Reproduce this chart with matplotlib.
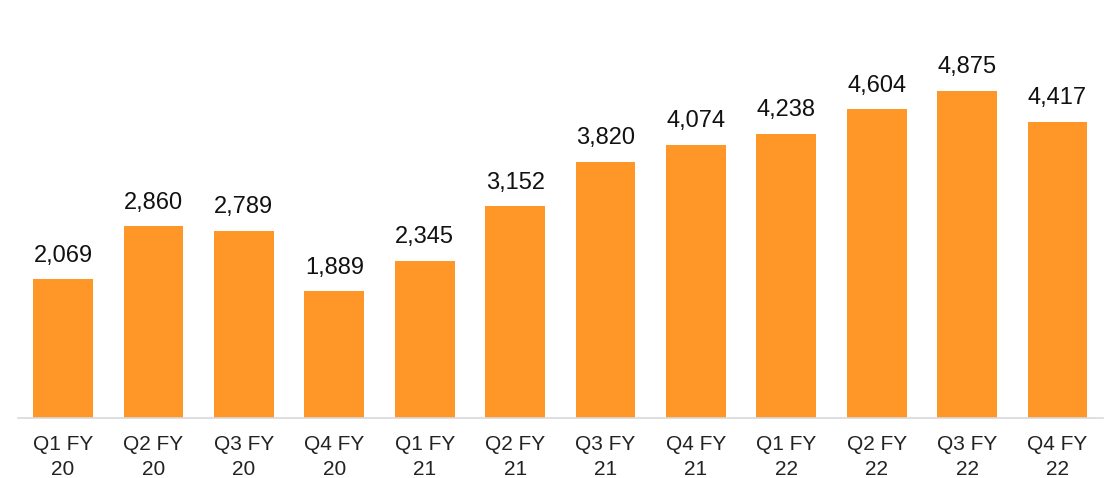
import matplotlib
matplotlib.use("Agg")
import matplotlib.pyplot as plt

categories = ["Q1 FY\n20", "Q2 FY\n20", "Q3 FY\n20", "Q4 FY\n20",
              "Q1 FY\n21", "Q2 FY\n21", "Q3 FY\n21", "Q4 FY\n21",
              "Q1 FY\n22", "Q2 FY\n22", "Q3 FY\n22", "Q4 FY\n22"]
values = [2069, 2860, 2789, 1889, 2345, 3152, 3820, 4074, 4238, 4604, 4875, 4417]

plt.rcParams['font.family'] = ['Liberation Sans', 'DejaVu Sans']

fig = plt.figure(figsize=(11.15, 4.78), dpi=100)
ax = fig.add_axes([0.016, 0.1255, 0.973, 0.8115])

x = range(len(values))
bars = ax.bar(x, values, width=0.66, color="#FF9628")
for xi, v in zip(x, values):
    ax.annotate(f"{v:,}", (xi, v), xytext=(0, 9), textcoords="offset points",
                ha="center", va="bottom", fontsize=17, color="#111111")

ax.set_xlim(-0.5, len(values) - 0.5)
ax.set_ylim(0, 5780)
ax.set_xticks(list(x))
ax.set_xticklabels(categories, fontsize=15, linespacing=1.4, color="#222222")
ax.tick_params(axis="x", length=0, pad=12)
ax.set_yticks([])
for s in ["top", "right", "left"]:
    ax.spines[s].set_visible(False)
ax.spines["bottom"].set_color("#D9D9D9")
ax.spines["bottom"].set_linewidth(1.2)

fig.savefig("out.png", dpi=100)
